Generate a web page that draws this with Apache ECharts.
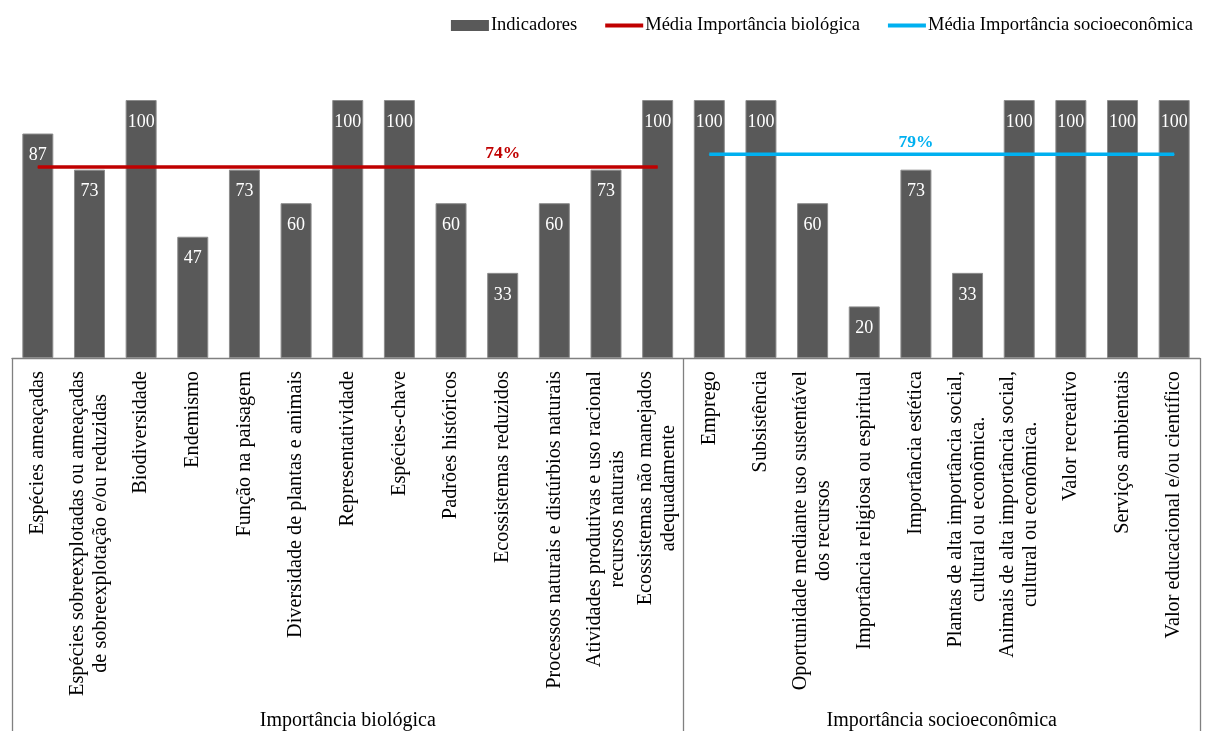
<!DOCTYPE html>
<html>
<head>
<meta charset="utf-8">
<script src="https://cdn.jsdelivr.net/npm/echarts@6/dist/echarts.min.js"></script>
<style>
  html, body { margin: 0; padding: 0; background: #ffffff; }
  #chart { width: 1208px; height: 731px; }
</style>
</head>
<body>
<div id="chart"></div>
<script>
// Indicator names, grouped by criterion (line breaks as wrapped in the axis labels)
const bioCategories = [
  'Espécies ameaçadas',
  'Espécies sobreexplotadas ou ameaçadas\nde sobreexplotação e/ou reduzidas',
  'Biodiversidade',
  'Endemismo',
  'Função na paisagem',
  'Diversidade de plantas e animais',
  'Representatividade',
  'Espécies-chave',
  'Padrões históricos',
  'Ecossistemas reduzidos',
  'Processos naturais e distúrbios naturais',
  'Atividades produtivas e uso racional\nrecursos naturais',
  'Ecossistemas não manejados\nadequadamente'
];
const socioCategories = [
  'Emprego',
  'Subsistência',
  'Oportunidade mediante uso sustentável\ndos recursos',
  'Importância religiosa ou espiritual',
  'Importância estética',
  'Plantas de alta importância social,\ncultural ou econômica.',
  'Animais de alta importância social,\ncultural ou econômica.',
  'Valor recreativo',
  'Serviços ambientais',
  'Valor educacional e/ou científico'
];

// Indicator scores (%)
const bioValues = [87, 73, 100, 47, 73, 60, 100, 100, 60, 33, 60, 73, 100];
const socioValues = [100, 100, 60, 20, 73, 33, 100, 100, 100, 100];

// Group averages (%)
const bioMean = 74;
const socioMean = 79;

// Which category carries each average's label
const bioMeanLabelIndex = 9;
const socioMeanLabelIndex = 17;

const groupNames = ['Importância biológica', 'Importância socioeconômica'];
const seriesNames = ['Indicadores', 'Média Importância biológica', 'Média Importância socioeconômica'];

const FONT = "'Liberation Serif', 'Times New Roman', serif";
const RED = '#C00000';
const BLUE = '#00B0F0';
const GREY = '#595959';
const RULE = '#808080';

const categories = bioCategories.concat(socioCategories);
const barValues = bioValues.concat(socioValues);

const bioLine = categories.map(function (_, i) {
  if (i >= bioCategories.length) return '-';
  return i === bioMeanLabelIndex ? { value: bioMean, label: { show: true } } : bioMean;
});
const socioLine = categories.map(function (_, i) {
  if (i < bioCategories.length) return '-';
  return i === socioMeanLabelIndex ? { value: socioMean, label: { show: true } } : socioMean;
});

const chart = echarts.init(document.getElementById('chart'), null, { renderer: 'canvas' });

const option = {
  animation: false,
  backgroundColor: '#ffffff',
  textStyle: { fontFamily: FONT },
  legend: {
    top: 11,
    right: 10,
    itemWidth: 38,
    itemHeight: 11,
    itemGap: 26,
    lineStyle: { width: 4 },
    textStyle: { fontFamily: FONT, fontSize: 18.5, color: '#000', padding: [0, 0, 0, -3] },
    data: [
      { name: seriesNames[0], icon: 'rect', itemStyle: { borderWidth: 0, color: GREY } },
      { name: seriesNames[1], itemStyle: { opacity: 0 } },
      { name: seriesNames[2], itemStyle: { opacity: 0 } }
    ]
  },
  grid: { left: 12, right: 8, top: 100, bottom: 373, containLabel: false },
  xAxis: {
    type: 'category',
    data: categories,
    boundaryGap: true,
    axisLine: { show: true, lineStyle: { color: RULE, width: 1.3 } },
    axisTick: {
      show: true,
      length: 380,
      lineStyle: { color: RULE, width: 1.3 },
      interval: function (index) { return index === 0 || index === bioCategories.length; }
    },
    axisLabel: {
      interval: 0,
      rotate: 90,
      margin: 13,
      formatter: function (v) {
        return v.split('\n').map(function (s) { return '{c|' + s + '}'; }).join('\n');
      },
      rich: {
        c: { align: 'center', fontFamily: FONT, fontSize: 20.3, lineHeight: 23, color: '#000' }
      }
    }
  },
  yAxis: {
    type: 'value',
    min: 0,
    max: 100,
    show: false,
    splitLine: { show: false }
  },
  series: [
    {
      name: seriesNames[0],
      type: 'bar',
      data: barValues,
      barCategoryGap: '40%',
      itemStyle: { color: GREY, borderColor: '#8c8c8c', borderWidth: 1 },
      label: {
        show: true,
        position: 'insideTop',
        distance: 13,
        color: '#ffffff',
        fontFamily: FONT,
        fontSize: 18
      },
      z: 2
    },
    {
      name: seriesNames[1],
      type: 'line',
      data: bioLine,
      symbol: 'circle',
      symbolSize: 1,
      showSymbol: true,
      itemStyle: { color: RED },
      lineStyle: { color: RED, width: 3.5 },
      label: {
        show: false,
        position: 'top',
        distance: 4,
        color: RED,
        fontFamily: FONT,
        fontSize: 17.5,
        fontWeight: 'bold',
        formatter: function (p) { return p.value + '%'; }
      },
      z: 3
    },
    {
      name: seriesNames[2],
      type: 'line',
      data: socioLine,
      symbol: 'circle',
      symbolSize: 1,
      showSymbol: true,
      itemStyle: { color: BLUE },
      lineStyle: { color: BLUE, width: 3.5 },
      label: {
        show: false,
        position: 'top',
        distance: 2,
        color: BLUE,
        fontFamily: FONT,
        fontSize: 17.5,
        fontWeight: 'bold',
        formatter: function (p) { return p.value + '%'; }
      },
      z: 3
    }
  ]
};

chart.setOption(option);

// Group titles centred under each block of categories, placed from the axis scale
function groupCenter(first, last) {
  const a = chart.convertToPixel({ xAxisIndex: 0 }, categories[first]);
  const b = chart.convertToPixel({ xAxisIndex: 0 }, categories[last]);
  return (a + b) / 2;
}
const nBio = bioCategories.length;
chart.setOption({
  graphic: [
    {
      type: 'text',
      x: groupCenter(0, nBio - 1),
      y: 721,
      style: {
        text: groupNames[0], fontFamily: FONT, fontSize: 20, fill: '#000',
        align: 'center', verticalAlign: 'middle'
      }
    },
    {
      type: 'text',
      x: groupCenter(nBio, categories.length - 1),
      y: 721,
      style: {
        text: groupNames[1], fontFamily: FONT, fontSize: 20, fill: '#000',
        align: 'center', verticalAlign: 'middle'
      }
    }
  ]
});
</script>
</body>
</html>
